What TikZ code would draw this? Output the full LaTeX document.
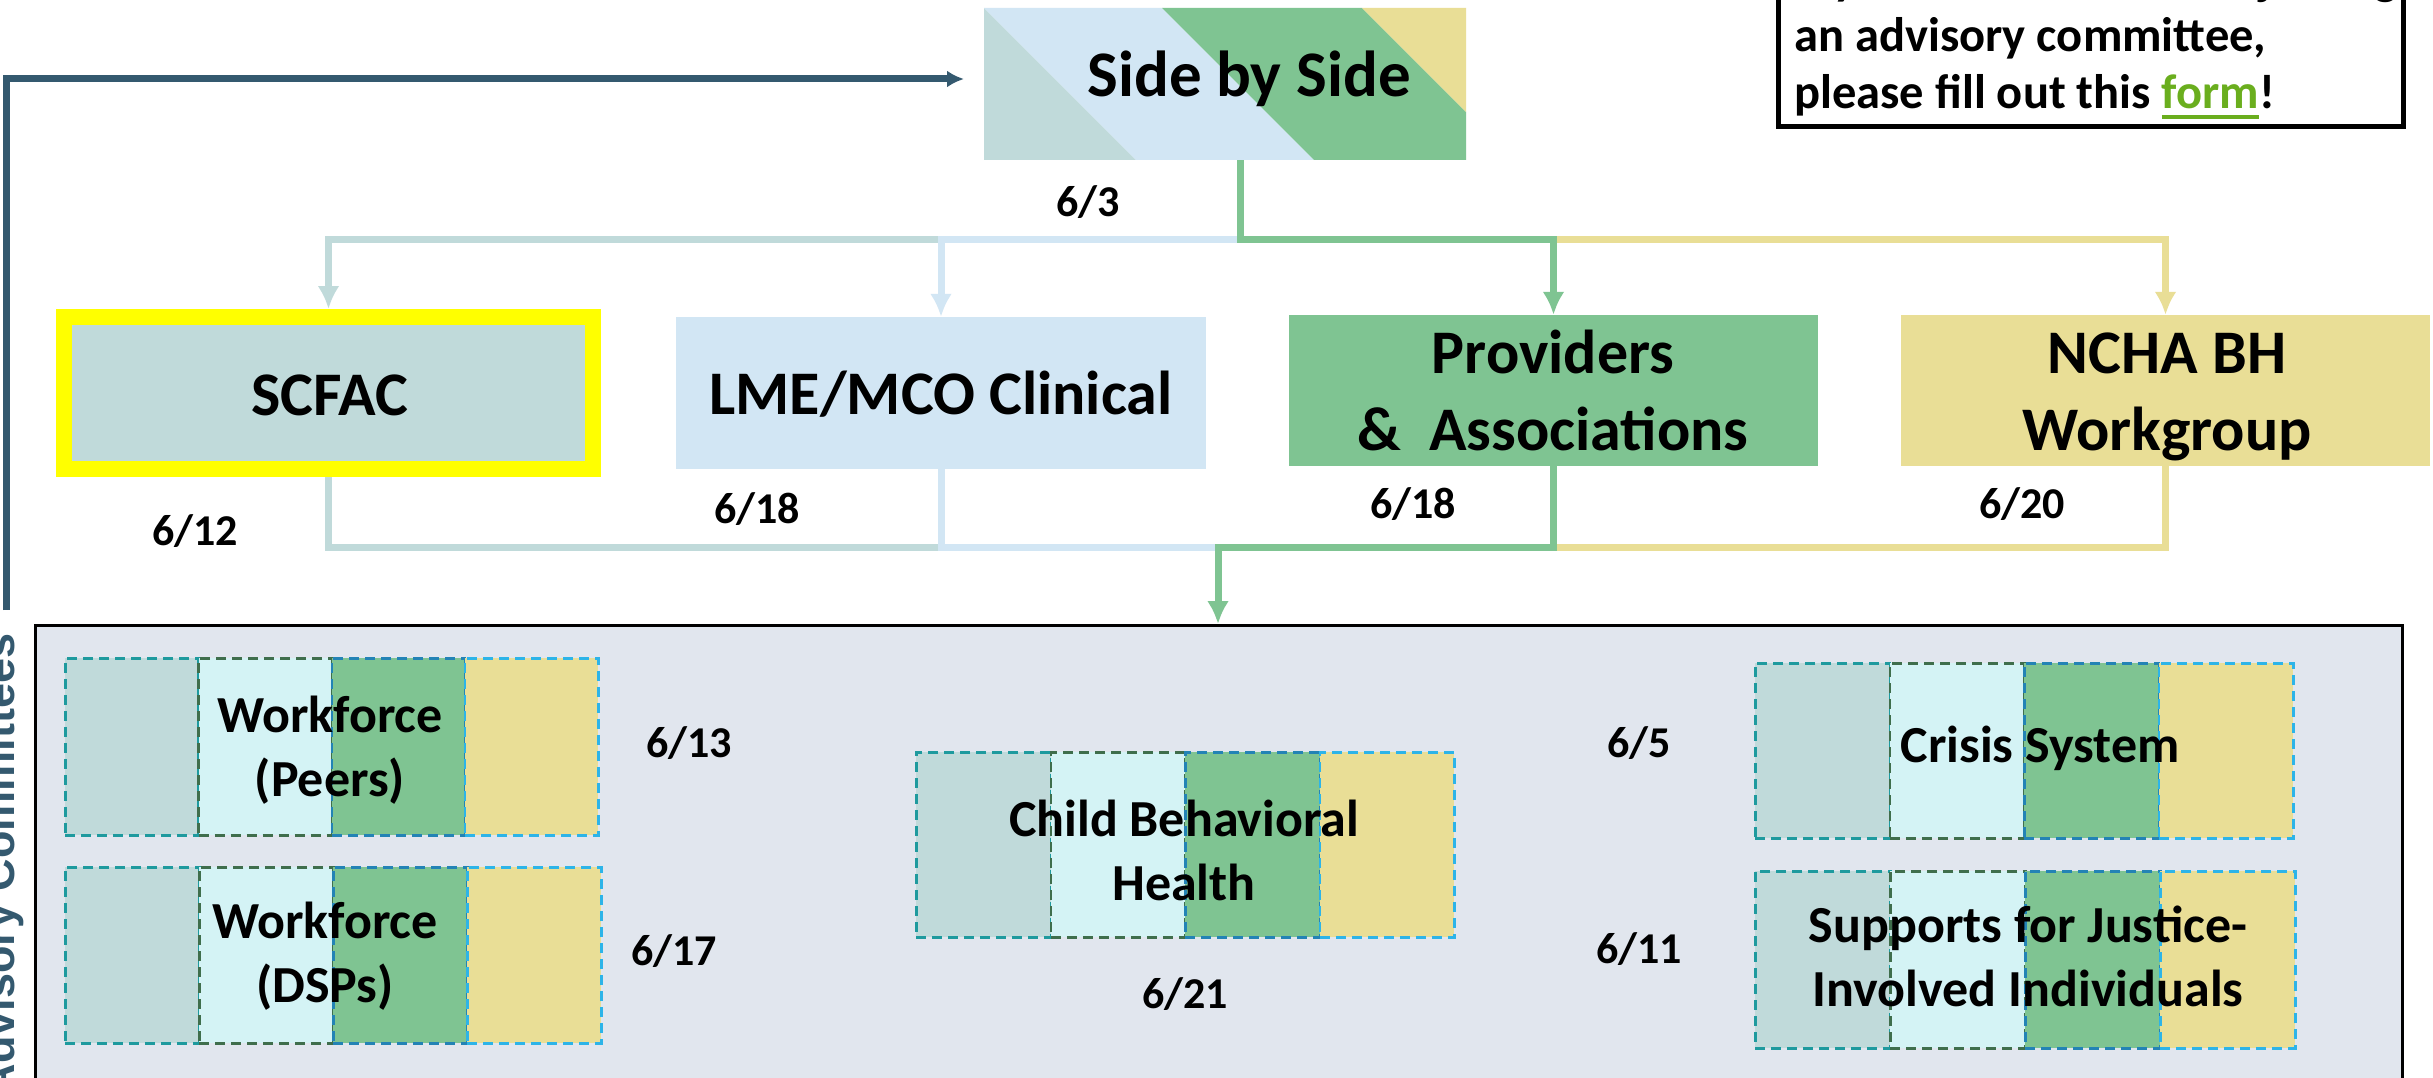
\documentclass[tikz,border=0pt]{standalone}
\usepackage{fontspec}
\setmainfont{Carlito}
\newfontfamily\arialfont{Liberation Sans}
\usetikzlibrary{arrows.meta}
\definecolor{cteal}{HTML}{C0DADA}
\definecolor{cblue}{HTML}{D2E6F4}
\definecolor{cgreen}{HTML}{7FC492}
\definecolor{cyellow}{HTML}{E9DE96}
\definecolor{ccyan}{HTML}{D4F3F5}
\definecolor{cpanel}{HTML}{E1E6EE}
\definecolor{cdark}{HTML}{34596F}
\definecolor{dteal}{HTML}{1E9A9E}
\definecolor{dgreen}{HTML}{3F6E4C}
\definecolor{dblue}{HTML}{2383B5}
\definecolor{dsky}{HTML}{2DB4E8}
\definecolor{formgreen}{HTML}{6AAE1E}
\definecolor{hl}{HTML}{FFFF00}
\newcommand\formlink[1]{\textcolor{formgreen}{\setbox0\hbox{#1}\rlap{\rule[-10pt]{\wd0}{4pt}}\box0}}
\newcommand\fourcols[5]{%
  \node[colbox, fill=cteal, draw=dteal, minimum width=#4pt, minimum height=#5pt] (#1a) at (#2,#3) {};
  \node[colbox, fill=ccyan, draw=dgreen, minimum width=#4pt, minimum height=#5pt] (#1b) at ({#2+#4},#3) {};
  \node[colbox, fill=cgreen, draw=dblue, minimum width=#4pt, minimum height=#5pt] (#1c) at ({#2+2*#4},#3) {};
  \node[colbox, fill=cyellow, draw=dsky, minimum width=#4pt, minimum height=#5pt] (#1d) at ({#2+3*#4},#3) {};
}
\begin{document}
\begin{tikzpicture}[x=1pt,y=-1pt,
  lbl/.style={font=\fontsize{44}{53}\selectfont\bfseries, inner sep=0pt, anchor=base},
  bigtxt/.style={font=\fontsize{62}{77}\selectfont\bfseries, inner sep=0pt, anchor=base, align=flush center, text width=560pt},
  smalltxt/.style={font=\fontsize{52}{64}\selectfont\bfseries, inner sep=0pt, anchor=base, align=flush center, text width=560pt},
  comm/.style={rectangle, inner sep=0pt, minimum width=529pt, minimum height=152pt},
  conn/.style={line width=7pt},
  tipped/.style={-{Latex[length=23pt,width=22pt]}},
  colbox/.style={rectangle, inner sep=0pt, anchor=north west, dash pattern=on 10pt off 6pt, line width=2.5pt},
]
\useasboundingbox (0,0) rectangle (2433,1078);
\clip (0,0) rectangle (2433,1078);
\fill[white] (0,0) rectangle (2433,1078);

% Side by Side
\fill[cteal] (984,8) -- (1136,160) -- (984,160) -- cycle;
\fill[cblue] (984,8) -- (1162,8) -- (1314,160) -- (1136,160) -- cycle;
\fill[cgreen] (1162,8) -- (1362,8) -- (1466,112) -- (1466,160) -- (1314,160) -- cycle;
\fill[cyellow] (1362,8) -- (1466,8) -- (1466,112) -- cycle;
\node[rectangle, inner sep=0pt, minimum width=482pt, minimum height=152pt] (sbs) at (1225,84) {};
\node[font=\fontsize{65}{78}\selectfont\bfseries, inner sep=0pt, anchor=base] (sbsT) at (1249,97) {Side by Side};

% form box
\node[rectangle, draw=black, line width=5pt, minimum width=625pt, minimum height=190pt, inner sep=0pt, anchor=south west] (formbox) at (1776,129.5) {};
\node[anchor=base west, text width=620pt, align=flush left, inner sep=0pt, font=\fontsize{48.5}{57}\selectfont\bfseries] (formT) at (1794,-5) {If you are interested in joining\\an advisory committee,\\please fill out this \formlink{form}!};

% advisory arrow and label
\coordinate (advtop) at (6,610);
\coordinate (sbsin) at (964,79);
\draw[cdark, line width=7pt, -{Latex[length=17pt,width=17pt]}] (advtop) |- (sbsin);
\node[rotate=90, anchor=base, inner sep=0pt, text=cdark, font=\arialfont\fontsize{45}{54}\selectfont\bfseries] (adv) at (14,865) {Advisory Committees};

% committees
\node[comm, fill=cteal, draw=hl, line width=16pt] (scfac) at (328.5,393) {};
\node[bigtxt] (scfacT) at (330,415) {SCFAC};
\node[comm, fill=cblue, minimum width=530pt] (lme) at (941,393) {};
\node[bigtxt] (lmeT) at (941,414) {LME/MCO Clinical};
\node[comm, fill=cgreen, minimum height=151pt] (prov) at (1553.5,390.5) {};
\node[bigtxt] (provT) at (1553,373) {Providers\\\&\ \ Associations};
\node[comm, fill=cyellow, minimum height=151pt] (ncha) at (2165.5,390.5) {};
\node[bigtxt] (nchaT) at (2167,373) {NCHA BH\\Workgroup};

% panel
\node[rectangle, fill=cpanel, draw=black, line width=3pt, minimum width=2367pt, minimum height=480pt, inner sep=0pt, anchor=north west] (panel) at (34,624) {};

% top connectors
\coordinate (jt) at (1240,239);
\draw[conn, cteal, tipped] (jt) -| (scfac.north);
\draw[conn, cblue, tipped] (jt) -| (lme.north);
\draw[conn, cyellow, tipped] (jt) -| (ncha.north);
\draw[conn, cgreen, tipped] (jt |- sbs.south) -- (jt) -| (prov.north);

% bottom connectors
\coordinate (jb) at (1218,547);
\draw[conn, cteal] (scfac.south) |- (lme.south |- jb);
\draw[conn, cblue] (lme.south) |- (jb);
\draw[conn, cyellow] (ncha.south) |- (prov.south |- jb);
\draw[conn, cgreen, tipped] (prov.south) |- (jb) -- (jb |- panel.north);

% sub-committees
\fourcols{peers}{64}{657}{133.25}{177}
\fourcols{dsps}{64}{866}{134}{176}
\fourcols{child}{915}{751}{134.5}{185}
\fourcols{crisis}{1754}{662}{134.5}{175}
\fourcols{supp}{1754}{870}{135}{177}
\node[smalltxt] (peersT) at (330,732) {Workforce\\(Peers)};
\node[smalltxt] (dspsT) at (325,938) {Workforce\\(DSPs)};
\node[smalltxt] (childT) at (1184,836) {Child Behavioral\\Health};
\node[smalltxt] (crisisT) at (2040,762) {Crisis System};
\node[smalltxt] (suppT) at (2028,942) {Supports for Justice-\\Involved Individuals};

% dates
\node[lbl] (d3) at (1088,216) {6/3};
\node[lbl] (d12) at (195,545) {6/12};
\node[lbl] (d18a) at (757,523) {6/18};
\node[lbl] (d18b) at (1413,518) {6/18};
\node[lbl] (d20) at (2022,518) {6/20};
\node[lbl] (d13) at (689,757) {6/13};
\node[lbl] (d17) at (674,965) {6/17};
\node[lbl] (d21) at (1185,1008) {6/21};
\node[lbl] (d5) at (1639,757) {6/5};
\node[lbl] (d11) at (1639,963) {6/11};
\end{tikzpicture}
\end{document}
